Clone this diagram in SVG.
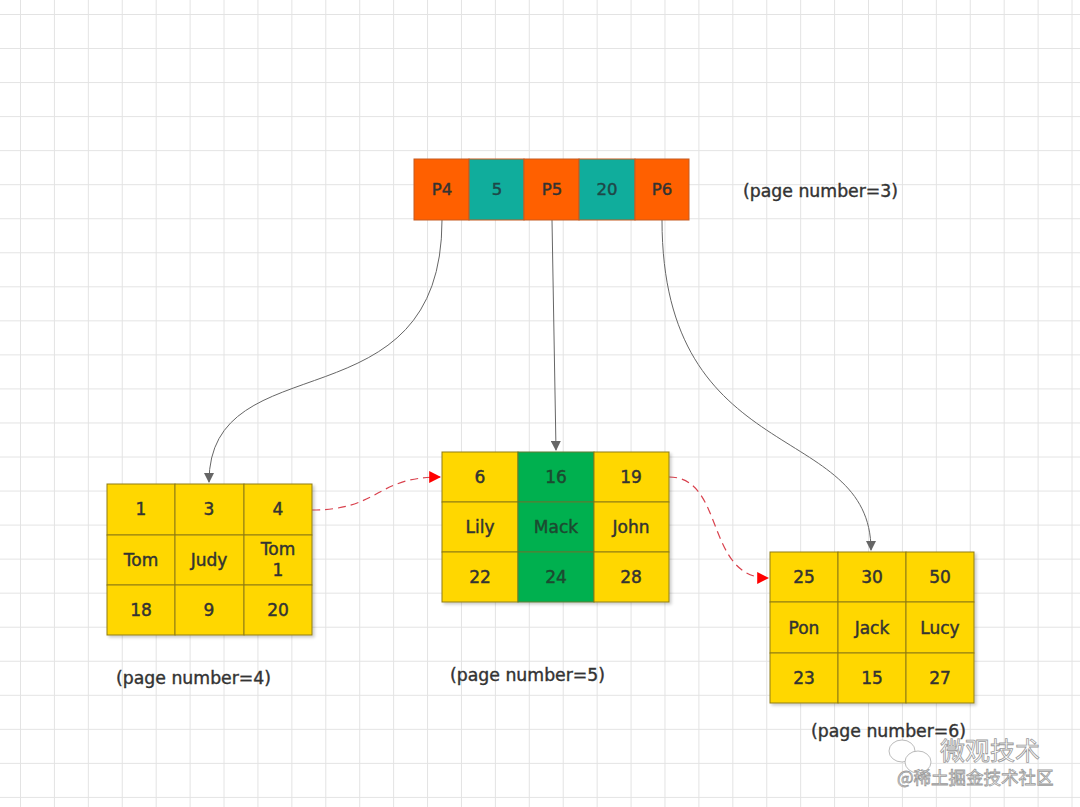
<svg xmlns="http://www.w3.org/2000/svg" width="1080" height="807" viewBox="0 0 1080 807">
<defs>
<pattern id="grid" patternUnits="userSpaceOnUse" x="20" y="14" width="33.92" height="34.04">
<path d="M0 0.5H33.92M0.5 0V34.04" fill="none" stroke="#e3e3e3" stroke-width="1"/>
</pattern>
<marker id="ag" viewBox="0 0 10 10" refX="9" refY="5" markerWidth="10" markerHeight="10" markerUnits="userSpaceOnUse" orient="auto">
<path d="M0 0L10 5L0 10Z" fill="#666"/>
</marker>
<marker id="ar" viewBox="0 0 10 10" refX="9" refY="5" markerWidth="12" markerHeight="12" markerUnits="userSpaceOnUse" orient="auto">
<path d="M0 0L10 5L0 10Z" fill="#ff0000"/>
</marker>
<filter id="sh" x="-5%" y="-5%" width="115%" height="115%">
<feDropShadow dx="2" dy="2" stdDeviation="1.5" flood-color="#000" flood-opacity="0.2"/>
</filter>
</defs>
<style>
.t{font-family:"DejaVu Sans","Liberation Sans",sans-serif;font-size:17px;text-anchor:middle;dominant-baseline:central;fill:#333;stroke:#333;stroke-width:0.45}
.top{font-size:16.5px}
.dg{fill:#1c4a30;stroke:#1c4a30}
.dt{fill:#1f4747;stroke:#1f4747}
.y{fill:#ffd700;stroke:#8f7c10;stroke-width:1}
.g{fill:#06b04f;stroke:#5a7a30;stroke-width:1}
.o{fill:#ff6000;stroke:#c55a20;stroke-width:1}
.c{fill:#10ad9c;stroke:#c55a20;stroke-width:1}
.lbl{font-family:"DejaVu Sans","Liberation Sans",sans-serif;font-size:17.3px;fill:#333;stroke:#333;stroke-width:0.4;dominant-baseline:central}
.gl{fill:none;stroke:#666;stroke-width:1}
.rl{fill:none;stroke:#d9424e;stroke-width:1.2;stroke-dasharray:8 5}
.wm{font-family:"Noto Sans CJK SC",sans-serif;fill:#fff;stroke:#9a9a9a;stroke-width:0.8}
</style>
<rect width="1080" height="807" fill="#fff"/>
<rect width="1080" height="807" fill="url(#grid)"/>

<g id="connectors">
<path class="gl" d="M442 220C442 430 209 340 209 482" marker-end="url(#ag)"/>
<path class="gl" d="M552 220L556 450" marker-end="url(#ag)"/>
<path class="gl" d="M662 220C662 470 871 420 871 550" marker-end="url(#ag)"/>
<path class="rl" d="M312 510C380 510 375 477 440 477" marker-end="url(#ar)"/>
<path class="rl" d="M669 477C725 477 705 578 768 578" marker-end="url(#ar)"/>
</g>

<g id="node-root">
<rect class="o" x="414" y="159" width="55" height="61"/>
<rect class="c" x="469" y="159" width="55" height="61"/>
<rect class="o" x="524" y="159" width="55" height="61"/>
<rect class="c" x="579" y="159" width="56" height="61"/>
<rect class="o" x="635" y="159" width="54" height="61"/>
<text class="t top" x="442" y="189">P4</text>
<text class="t top dt" x="497" y="189">5</text>
<text class="t top" x="552" y="189">P5</text>
<text class="t top dt" x="607" y="189">20</text>
<text class="t top" x="662" y="189">P6</text>
</g>
<text id="label-3" class="lbl" x="743" y="191">(page number=3)</text>

<g id="node-page4" filter="url(#sh)">
<rect class="y" x="107" y="484" width="68" height="51"/>
<rect class="y" x="175" y="484" width="69" height="51"/>
<rect class="y" x="244" y="484" width="68" height="51"/>
<rect class="y" x="107" y="535" width="68" height="50"/>
<rect class="y" x="175" y="535" width="69" height="50"/>
<rect class="y" x="244" y="535" width="68" height="50"/>
<rect class="y" x="107" y="585" width="68" height="50"/>
<rect class="y" x="175" y="585" width="69" height="50"/>
<rect class="y" x="244" y="585" width="68" height="50"/>
</g>
<g id="node-page4-text">
<text class="t" x="141" y="509">1</text>
<text class="t" x="209" y="509">3</text>
<text class="t" x="278" y="509">4</text>
<text class="t" x="141" y="560">Tom</text>
<text class="t" x="209" y="560">Judy</text>
<text class="t" x="278" y="549">Tom</text>
<text class="t" x="278" y="570">1</text>
<text class="t" x="141" y="610">18</text>
<text class="t" x="209" y="610">9</text>
<text class="t" x="278" y="610">20</text>
</g>
<text id="label-4" class="lbl" x="116" y="678">(page number=4)</text>

<g id="node-page5" filter="url(#sh)">
<rect class="y" x="442" y="452" width="76" height="50"/>
<rect class="g" x="518" y="452" width="76" height="50"/>
<rect class="y" x="594" y="452" width="75" height="50"/>
<rect class="y" x="442" y="502" width="76" height="50"/>
<rect class="g" x="518" y="502" width="76" height="50"/>
<rect class="y" x="594" y="502" width="75" height="50"/>
<rect class="y" x="442" y="552" width="76" height="50"/>
<rect class="g" x="518" y="552" width="76" height="50"/>
<rect class="y" x="594" y="552" width="75" height="50"/>
</g>
<g id="node-page5-text">
<text class="t" x="480" y="477">6</text>
<text class="t dg" x="556" y="477">16</text>
<text class="t" x="631" y="477">19</text>
<text class="t" x="480" y="527">Lily</text>
<text class="t dg" x="556" y="527">Mack</text>
<text class="t" x="631" y="527">John</text>
<text class="t" x="480" y="577">22</text>
<text class="t dg" x="556" y="577">24</text>
<text class="t" x="631" y="577">28</text>
</g>
<text id="label-5" class="lbl" x="450" y="675">(page number=5)</text>

<g id="node-page6" filter="url(#sh)">
<rect class="y" x="770" y="552" width="68" height="50"/>
<rect class="y" x="838" y="552" width="68" height="50"/>
<rect class="y" x="906" y="552" width="68" height="50"/>
<rect class="y" x="770" y="602" width="68" height="51"/>
<rect class="y" x="838" y="602" width="68" height="51"/>
<rect class="y" x="906" y="602" width="68" height="51"/>
<rect class="y" x="770" y="653" width="68" height="50"/>
<rect class="y" x="838" y="653" width="68" height="50"/>
<rect class="y" x="906" y="653" width="68" height="50"/>
</g>
<g id="node-page6-text">
<text class="t" x="804" y="577">25</text>
<text class="t" x="872" y="577">30</text>
<text class="t" x="940" y="577">50</text>
<text class="t" x="804" y="628">Pon</text>
<text class="t" x="872" y="628">Jack</text>
<text class="t" x="940" y="628">Lucy</text>
<text class="t" x="804" y="678">23</text>
<text class="t" x="872" y="678">15</text>
<text class="t" x="940" y="678">27</text>
</g>
<text id="label-6" class="lbl" x="811" y="731">(page number=6)</text>

<g id="watermark">
<ellipse cx="902" cy="751" rx="13" ry="11" fill="#fff" stroke="#aaa" stroke-width="0.8"/>
<ellipse cx="918" cy="762" rx="13" ry="11" fill="#fff" stroke="#aaa" stroke-width="0.8"/>
<text class="wm" x="940" y="760" font-size="25">微观技术</text>
<text class="wm" x="897" y="784" font-size="17.5">@稀土掘金技术社区</text>
</g>
</svg>
